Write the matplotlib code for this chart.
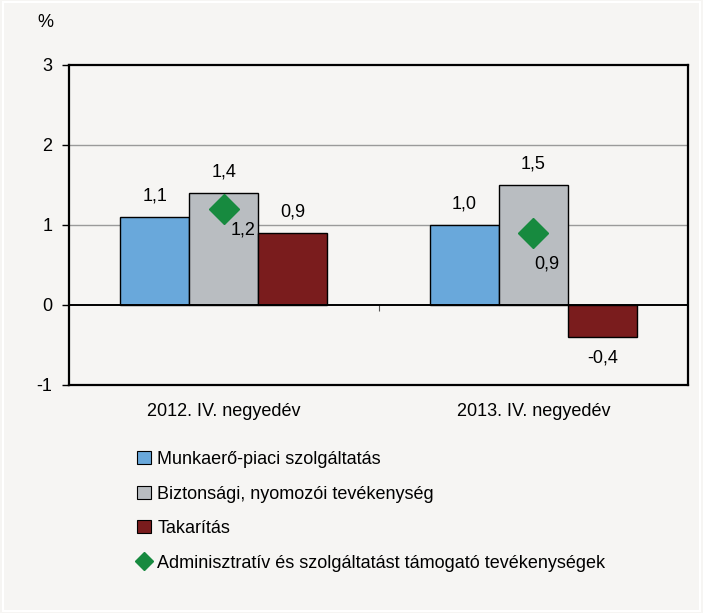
import numpy as np
import matplotlib
matplotlib.use("Agg")
import matplotlib.pyplot as plt
from matplotlib.lines import Line2D
from matplotlib.patches import Patch, Rectangle

plt.rcParams["font.family"] = ["Liberation Sans", "DejaVu Sans"]

# ── data ─────────────────────────────────────────────────────────────────────
categories = ["2012. IV. negyedév", "2013. IV. negyedév"]
series_names = ["Munkaerő-piaci szolgáltatás",
                "Biztonsági, nyomozói tevékenység",
                "Takarítás"]
munkaero = [1.1, 1.0]
biztonsagi = [1.4, 1.5]
takaritas = [0.9, -0.4]
admin_name = "Adminisztratív és szolgáltatást támogató tevékenységek"
admin = [1.2, 0.9]

colors = ["#69a8db", "#b9bdc1", "#7a1c1d"]
green = "#178a3f"
bg = "#f6f5f3"
admin_offsets = [(14, -15), (10, -22)]   # label offsets (points) next to diamonds


def hu(v):
    return f"{v:.1f}".replace(".", ",")


fig = plt.figure(figsize=(7.03, 6.13), dpi=100, facecolor=bg)
fig.patches.append(Rectangle((0.004, 0.004), 0.992, 0.992, transform=fig.transFigure,
                             fill=False, edgecolor="white", lw=1.5))
ax = fig.add_axes([0.0982, 0.372, 0.8805, 0.522])
ax.set_facecolor(bg)

x = np.arange(len(categories))
w = 0.223
for i, (vals, c) in enumerate(zip([munkaero, biztonsagi, takaritas], colors)):
    bars = ax.bar(x + (i - 1) * w, vals, width=w, color=c, edgecolor="black",
                  linewidth=1.0, zorder=3)
    ax.bar_label(bars, labels=[hu(v) for v in vals], padding=9, fontsize=13)

ax.plot(x, admin, ls="none", marker="D", ms=15, color=green, zorder=4)
for xi, v, off in zip(x, admin, admin_offsets):
    ax.annotate(hu(v), (xi, v), xytext=off, textcoords="offset points",
                ha="center", va="center", fontsize=13, zorder=5)

ax.set_xlim(-0.5, 1.5)
ax.set_ylim(-1, 3)
ax.set_yticks([-1, 0, 1, 2, 3])
ax.set_yticklabels(["-1", "0", "1", "2", "3"], fontsize=13)
ax.set_xticks(x)
ax.set_xticklabels(categories, fontsize=13)
ax.tick_params(axis="x", length=0, pad=13)
ax.tick_params(axis="y", length=5, width=1, direction="out", pad=7)
for t, val in zip(ax.yaxis.get_major_ticks(), [-1, 0, 1, 2, 3]):
    if val in (1, 2):
        t.tick1line.set_color("#9a9a9a")

for v in [1, 2]:
    ax.axhline(v, color="#9a9a9a", lw=1.0, zorder=1)
ax.axhline(0, color="black", lw=1.4, zorder=4)
ax.vlines(0.5, -0.07, 0, color="#555555", lw=0.8, zorder=2)
for s in ax.spines.values():
    s.set_linewidth(1.6)
    s.set_color("black")

fig.text(0.064, 0.963, "%", fontsize=13, ha="center", va="center")

handles = [Patch(facecolor=c, edgecolor="black", lw=0.8) for c in colors]
handles.append(Line2D([], [], ls="none", marker="D", ms=9, color=green))
fig.legend(handles, series_names + [admin_name], loc="upper left",
           bbox_to_anchor=(0.185, 0.276), frameon=False, fontsize=13,
           handlelength=0.75, handleheight=0.75, handletextpad=0.35,
           labelspacing=0.97, borderaxespad=0)

fig.savefig("out.png", dpi=100, facecolor=bg)
